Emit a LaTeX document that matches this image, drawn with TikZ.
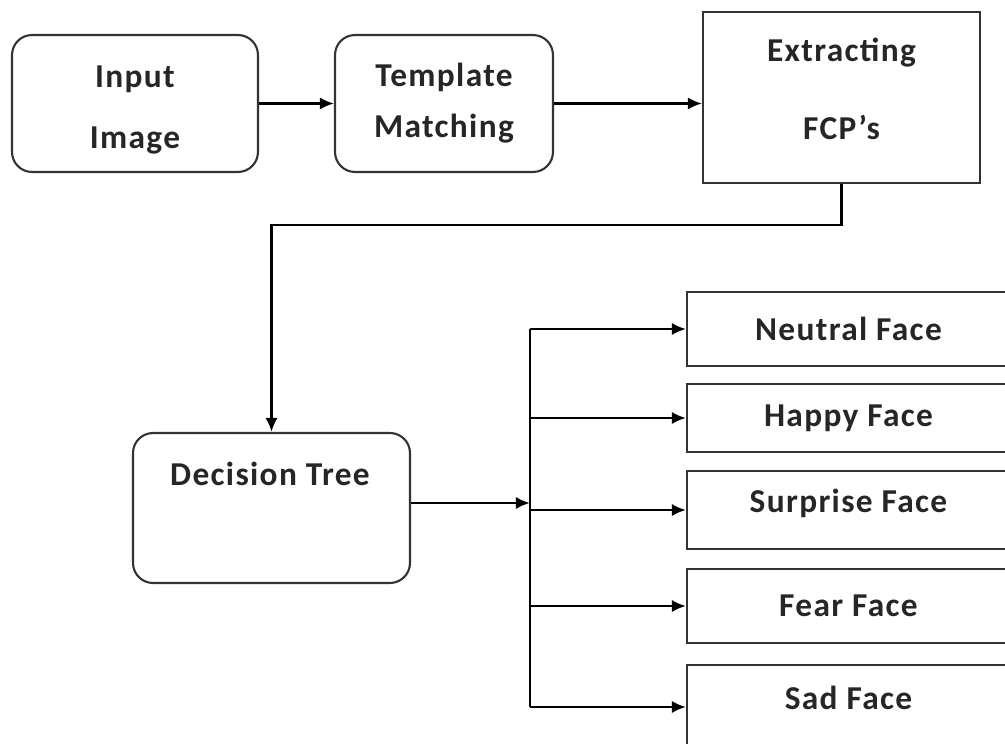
\documentclass[tikz,border=0pt]{standalone}
\usepackage{fontspec}
\setmainfont{Carlito}[LetterSpace=4]
\usetikzlibrary{arrows.meta}
\begin{document}
\begin{tikzpicture}[x=0.02cm,y=-0.02cm,>={Latex[length=8pt,width=7pt]}]
        \tikzstyle{txt}=[font=\bfseries\fontsize{19}{23}\selectfont,text=black!85]
        \tikzstyle{stage}=[txt,draw=black!80,line width=1.2pt,rounded corners=0.4cm,align=center,inner sep=0pt]
        \tikzstyle{plain}=[stage,rounded corners=0pt]
        \tikzstyle{face}=[plain,minimum width=6.46cm]
        \tikzstyle{edge}=[draw,line width=1.5pt,->]
        \useasboundingbox (0,0) rectangle (1005,744);
        \clip (0,0) rectangle (1005,744);
       \begin{scope}
         \node [stage,minimum width=4.92cm,minimum height=2.74cm] (input) at (135,103.5) {\rule{0pt}{20pt}Input\\[12pt]Image};
         \node [stage,minimum width=4.36cm,minimum height=2.74cm] (template) at (444,103.5) {Template\\[6pt]Matching};
         \node [plain,minimum width=5.54cm,minimum height=3.42cm] (extract) at (841.5,97.5) {Extracting\\[21pt]FCP’s\rule[-10pt]{0pt}{10pt}};
         \node [stage,minimum width=5.54cm,minimum height=3cm] (tree) at (271.5,508) {};
         \node [txt] (treetext) at (270,474) {Decision Tree};
         \node [face,minimum height=1.48cm] (neutral) at (848.5,329) {Neutral Face};
         \node [face,minimum height=1.36cm] (happy) at (848.5,418) {Happy Face};
         \node [face,minimum height=1.56cm,text depth=11pt] (surprise) at (848.5,510) {Surprise Face};
         \node [face,minimum height=1.68cm,text depth=11pt] (sad) at (848.5,707) {Sad Face};
         \node [face,minimum height=1.48cm] (fear) at (848.5,606) {Fear Face};
         \coordinate (split) at (530,503);
         \path[edge] (input) -- (template);
         \path[edge] (template.east) -- (template.east -| extract.west);
         \path[edge] (extract.south) -- ++(0,41) -| (tree.north);
         \path[edge] (tree.east |- split) -- (split);
         \draw[line width=1.5pt] (split |- neutral.west) -- (split |- sad.west);
         \foreach \f in {neutral,happy,surprise,fear,sad}
           \path[edge] (split |- \f.west) -- (\f.west);
        \end{scope}
      \end{tikzpicture}
\end{document}
